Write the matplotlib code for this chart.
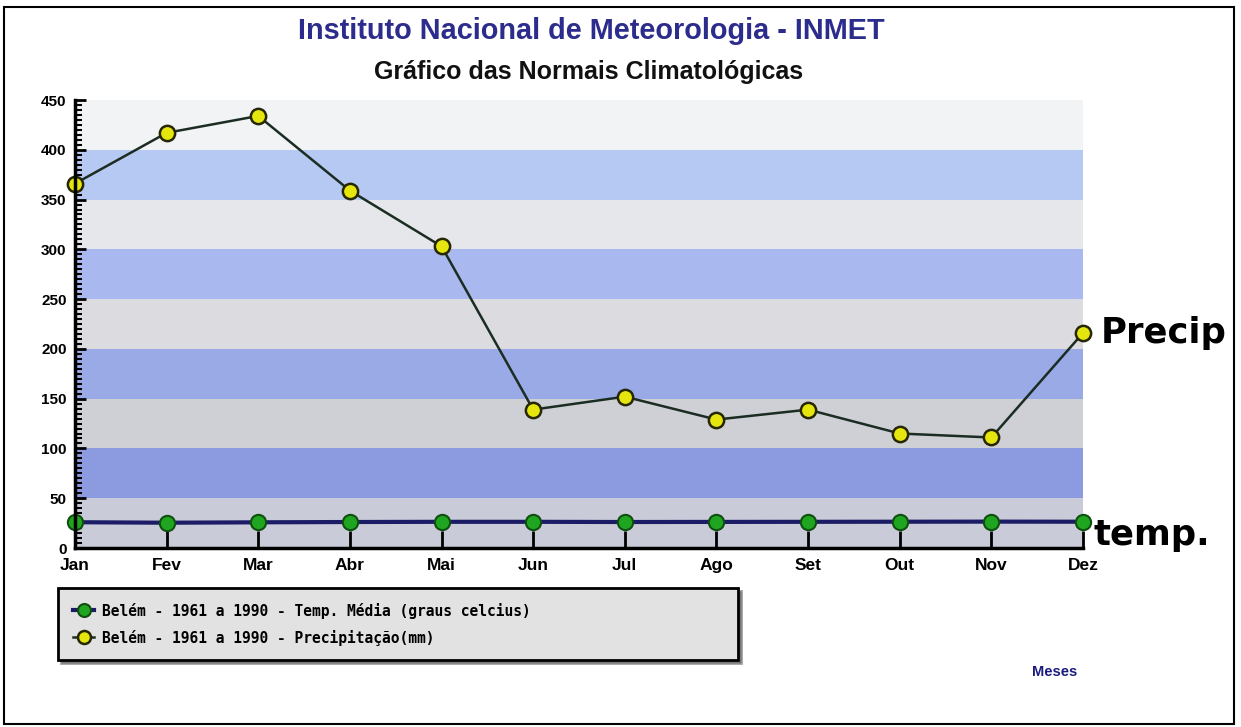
import matplotlib
matplotlib.use('Agg')
import matplotlib.pyplot as plt
import matplotlib.ticker as mtick
from matplotlib.patches import Rectangle

months = ['Jan', 'Fev', 'Mar', 'Abr', 'Mai', 'Jun',
          'Jul', 'Ago', 'Set', 'Out', 'Nov', 'Dez']
temp_media = [25.9, 25.4, 25.8, 26.1, 26.3, 26.3, 26.1, 26.2, 26.3, 26.4, 26.5, 26.4]
precip = [366, 417, 434, 359, 303, 139, 152, 129, 139, 115, 111, 216]

# bands of 50 mm, from the bottom up
band_colors = ['#cacbd9', '#8c9be0', '#cfd0d6', '#9aaae6', '#dcdce0',
               '#a9b9ef', '#e6e7ea', '#b6c9f3', '#f2f3f5']

label_temp = 'Belém - 1961 a 1990 - Temp. Média (graus celcius)'
label_prec = 'Belém - 1961 a 1990 - Precipitação(mm)'

SANS = ['Liberation Sans', 'DejaVu Sans']


def make_figure(outname):
    fig = plt.figure(figsize=(12.41, 7.27), dpi=100)
    ax = fig.add_axes([75 / 1241, 1 - 548 / 727, 1008 / 1241, 448 / 727])

    for i, c in enumerate(band_colors):
        ax.axhspan(i * 50, (i + 1) * 50, color=c, lw=0, zorder=0)

    x = list(range(len(months)))
    ax.plot(x, temp_media, color='#1c1c66', lw=3, marker='o', ms=11,
            mfc='#1fa51f', mec='#0f4f0f', mew=1.5, clip_on=False, zorder=3,
            label=label_temp)
    ax.plot(x, precip, color='#1b2d22', lw=1.8, marker='o', ms=11,
            mfc='#e6e60f', mec='#262600', mew=1.8, clip_on=False, zorder=3,
            label=label_prec)

    ax.set_xlim(0, 11)
    ax.set_ylim(0, 450)
    ax.set_xticks(x)
    ax.set_xticklabels(months)
    ax.yaxis.set_major_locator(mtick.MultipleLocator(50))
    ax.yaxis.set_minor_locator(mtick.MultipleLocator(5))

    for s in ['top', 'right']:
        ax.spines[s].set_visible(False)
    for s in ['left', 'bottom']:
        ax.spines[s].set_linewidth(2.5)
        ax.spines[s].set_zorder(4)

    ax.tick_params(axis='y', which='major', direction='in', length=8, width=2,
                   labelsize=11, pad=6)
    ax.tick_params(axis='y', which='minor', direction='in', length=5, width=1.5)
    ax.tick_params(axis='x', direction='in', length=12, width=2,
                   labelsize=12.5, pad=7)
    for lab in ax.get_xticklabels() + ax.get_yticklabels():
        lab.set_fontweight('bold')
        lab.set_family(SANS)

    fig.text(591 / 1241, 1 - 31 / 727, 'Instituto Nacional de Meteorologia - INMET',
             ha='center', va='center', fontsize=20.8, fontweight='bold',
             color='#2c2c8c', family=SANS)
    fig.text(589 / 1241, 1 - 72 / 727, 'Gráfico das Normais Climatológicas',
             ha='center', va='center', fontsize=18, fontweight='bold',
             color='#111111', family=SANS)

    # hand-written labels to the right of the plot
    fig.text(1101 / 1241, 1 - 333 / 727, 'Precip', ha='left', va='center',
             fontsize=25.5, fontweight='bold', color='black', family=['DejaVu Sans'])
    fig.text(1094 / 1241, 1 - 535 / 727, 'temp.', ha='left', va='center',
             fontsize=25.5, fontweight='bold', color='black', family=['DejaVu Sans'])
    fig.text(1055 / 1241, 1 - 672 / 727, 'Meses', ha='center', va='center',
             fontsize=10.5, fontweight='bold', color='#1c1c80', family=SANS)

    leg = ax.legend(loc='upper left', mode='expand',
                    bbox_to_anchor=(58 / 1241, 1 - 665 / 727, 680 / 1241, 77 / 727),
                    bbox_transform=fig.transFigure, borderaxespad=0,
                    fancybox=False, shadow=True, markerscale=0.85,
                    prop={'family': 'DejaVu Sans Mono', 'weight': 'bold', 'size': 10.5},
                    handlelength=1.5, handletextpad=0.5, borderpad=1.0,
                    labelspacing=0.75)
    leg.get_frame().set_facecolor('#e2e2e2')
    leg.get_frame().set_edgecolor('black')
    leg.get_frame().set_linewidth(2)
    leg.get_frame().set_alpha(1)

    fig.patches.append(Rectangle((4 / 1241, 3 / 727), 1230 / 1241, 717 / 727,
                                 transform=fig.transFigure, fill=False,
                                 edgecolor='black', lw=1.5))

    fig.savefig(outname, dpi=100)


if __name__ == '__main__':
    make_figure('out.png')
